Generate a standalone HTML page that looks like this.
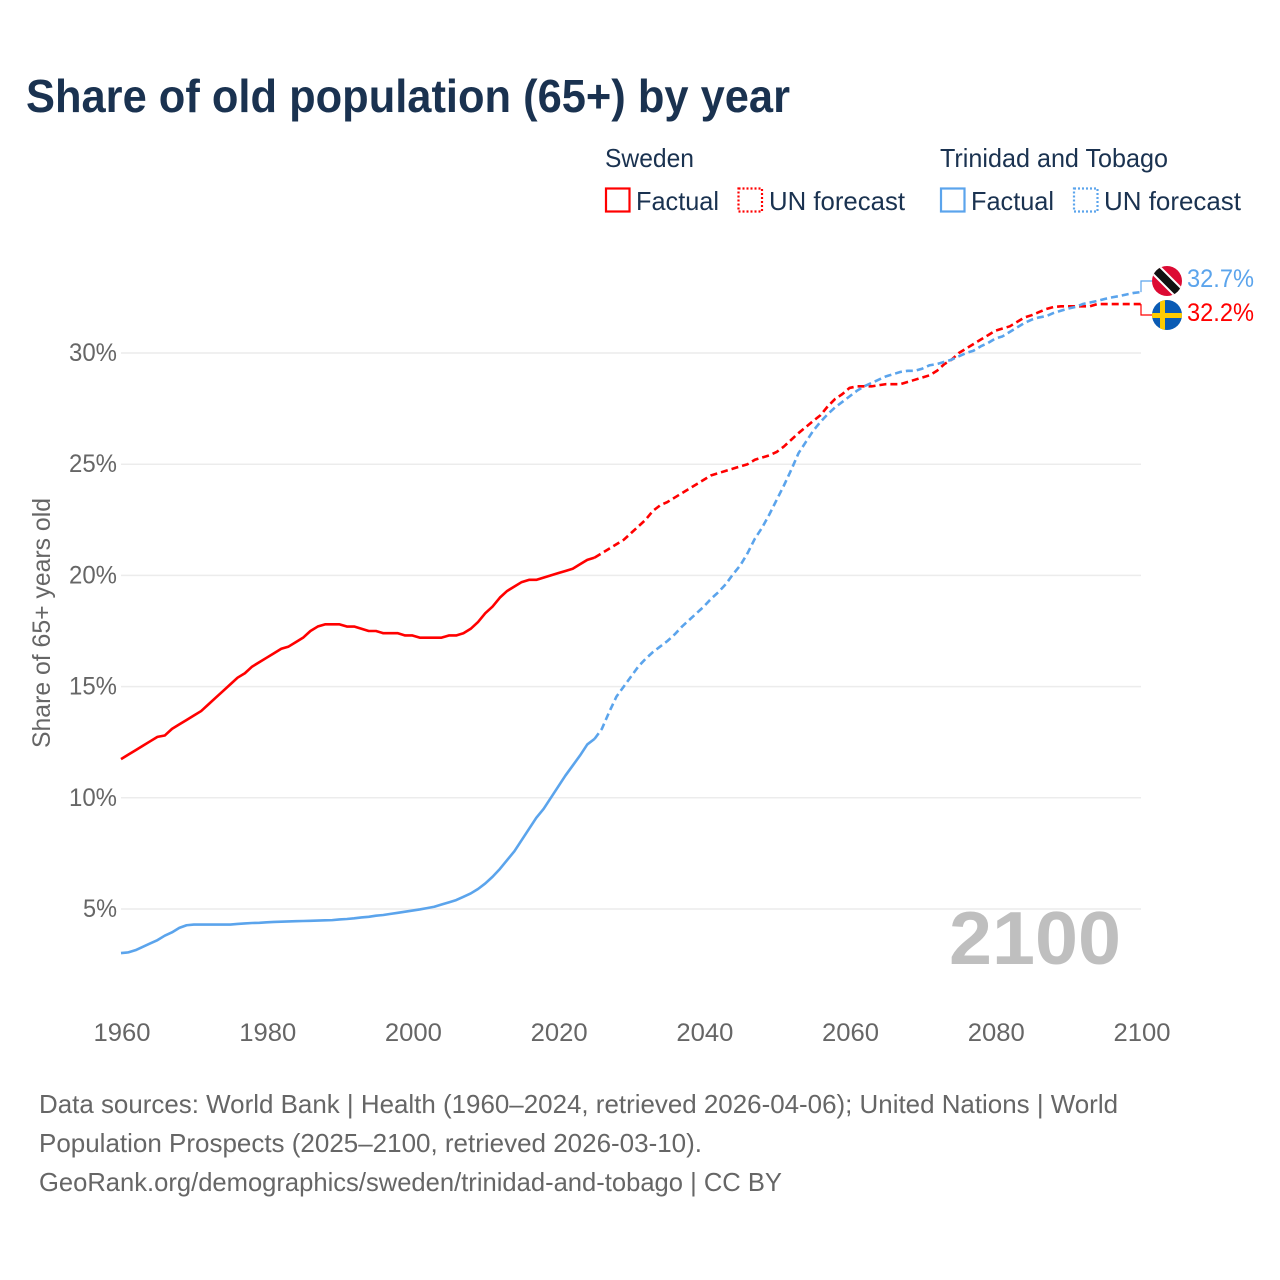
<!DOCTYPE html>
<html lang="en">
<head>
<meta charset="utf-8">
<title>Share of old population (65+) by year</title>
<style>
html,body{margin:0;padding:0;background:#fff;}
svg{display:block;font-family:"Liberation Sans",sans-serif;}
</style>
</head>
<body>
<svg id="chart" xmlns="http://www.w3.org/2000/svg" width="1280" height="1280" viewBox="0 0 1280 1280">
  <defs>
    <clipPath id="clip-tt"><circle cx="1167" cy="281" r="15"/></clipPath>
    <clipPath id="clip-se"><circle cx="1167" cy="315" r="15"/></clipPath>
  </defs>
  <rect x="0" y="0" width="1280" height="1280" fill="#fff"/>
  <text x="26" y="112" font-size="46" font-weight="700" fill="#1a3250" textLength="764" lengthAdjust="spacingAndGlyphs">Share of old population (65+) by year</text>

  <g font-size="26" fill="#1a3250">
    <text x="605" y="167" textLength="89" lengthAdjust="spacingAndGlyphs">Sweden</text>
    <rect x="606" y="188.500" width="23.500" height="23" fill="none" stroke="#ff0000" stroke-width="2.200"/>
    <text x="636" y="210" textLength="83" lengthAdjust="spacingAndGlyphs">Factual</text>
    <rect x="738.500" y="188.500" width="23.500" height="23" fill="none" stroke="#ff0000" stroke-width="2.200" stroke-dasharray="2 2"/>
    <text x="769" y="210" textLength="136" lengthAdjust="spacingAndGlyphs">UN forecast</text>
    <text x="940" y="167" textLength="228" lengthAdjust="spacingAndGlyphs">Trinidad and Tobago</text>
    <rect x="941" y="188.500" width="23.500" height="23" fill="none" stroke="#5ba4ec" stroke-width="2.200"/>
    <text x="971" y="210" textLength="83" lengthAdjust="spacingAndGlyphs">Factual</text>
    <rect x="1074" y="188.500" width="23.500" height="23" fill="none" stroke="#5ba4ec" stroke-width="2.200" stroke-dasharray="2 2"/>
    <text x="1104" y="210" textLength="137" lengthAdjust="spacingAndGlyphs">UN forecast</text>
  </g>

  <text transform="translate(50,748) rotate(-90)" font-size="25" fill="#666666" textLength="250" lengthAdjust="spacingAndGlyphs">Share of 65+ years old</text>

  <g id="grid"></g>
  <g id="yticks" font-size="25" fill="#666666" text-anchor="end"></g>
  <g id="xticks" font-size="25" fill="#666666" text-anchor="middle"></g>

  <text x="949" y="964" font-size="75" font-weight="700" fill="#bfbfbf" textLength="172" lengthAdjust="spacingAndGlyphs">2100</text>

  <g id="series"></g>

  <g clip-path="url(#clip-tt)">
    <rect x="1150" y="264" width="34" height="34" fill="#dc0a33"/>
    <line x1="1150" y1="264" x2="1184" y2="298" stroke="#ffffff" stroke-width="12"/>
    <line x1="1150" y1="264" x2="1184" y2="298" stroke="#111111" stroke-width="8"/>
  </g>
  <g clip-path="url(#clip-se)">
    <rect x="1150" y="298" width="34" height="34" fill="#0a5bb4"/>
    <rect x="1160" y="298" width="5" height="34" fill="#fecb00"/>
    <rect x="1150" y="313" width="34" height="5" fill="#fecb00"/>
  </g>
  <g id="endlabels" font-size="25"></g>

  <g font-size="26" fill="#666666">
    <text x="39" y="1113" textLength="1079" lengthAdjust="spacingAndGlyphs">Data sources: World Bank | Health (1960–2024, retrieved 2026-04-06); United Nations | World</text>
    <text x="39" y="1152" textLength="663" lengthAdjust="spacingAndGlyphs">Population Prospects (2025–2100, retrieved 2026-03-10).</text>
    <text x="39" y="1191" textLength="743" lengthAdjust="spacingAndGlyphs">GeoRank.org/demographics/sweden/trinidad-and-tobago | CC BY</text>
  </g>
</svg>
<script>
const startYear = 1960;
const forecastStartYear = 2025;
const xTickYears = [1960, 1980, 2000, 2020, 2040, 2060, 2080, 2100];
const yTickValues = [5, 10, 15, 20, 25, 30];
const yTickLabels = ["5%", "10%", "15%", "20%", "25%", "30%"];

const swedenFactual = [
11.74,11.94,12.14,12.34,12.54,12.74,12.8,13.1,13.3,13.5,
13.7,13.9,14.2,14.5,14.8,15.1,15.4,15.6,15.9,16.1,
16.3,16.5,16.7,16.8,17.0,17.2,17.5,17.7,17.8,17.8,
17.8,17.7,17.7,17.6,17.5,17.5,17.4,17.4,17.4,17.3,
17.3,17.2,17.2,17.2,17.2,17.3,17.3,17.4,17.6,17.9,
18.3,18.6,19.0,19.3,19.5,19.7,19.8,19.8,19.9,20.0,
20.1,20.2,20.3,20.5,20.7,20.8];
const swedenForecast = [
20.8,21.0,21.2,21.4,21.6,21.9,22.2,22.5,22.9,23.15,
23.3,23.5,23.7,23.9,24.1,24.3,24.5,24.6,24.7,24.8,
24.9,25.0,25.2,25.3,25.4,25.55,25.8,26.1,26.4,26.67,
26.94,27.2,27.6,27.93,28.15,28.43,28.5,28.5,28.5,28.55,
28.6,28.6,28.6,28.7,28.8,28.9,29.0,29.2,29.5,29.7,
30.0,30.2,30.4,30.6,30.8,31.0,31.1,31.2,31.4,31.6,
31.7,31.84,31.98,32.07,32.1,32.1,32.1,32.1,32.1,32.2,
32.2,32.2,32.2,32.2,32.2,32.2];
const trinidadFactual = [
3.02,3.05,3.15,3.3,3.45,3.6,3.8,3.95,4.15,4.27,
4.3,4.3,4.3,4.3,4.3,4.3,4.33,4.35,4.37,4.38,
4.4,4.42,4.43,4.44,4.45,4.46,4.47,4.48,4.49,4.5,
4.53,4.55,4.58,4.62,4.65,4.7,4.73,4.78,4.83,4.88,
4.93,4.98,5.04,5.1,5.2,5.3,5.4,5.55,5.7,5.9,
6.15,6.45,6.8,7.2,7.6,8.1,8.6,9.1,9.5,10.0,
10.5,11.0,11.45,11.9,12.4,12.65];
const trinidadForecast = [
12.65,13.1,13.85,14.55,15.0,15.45,15.9,16.25,16.55,16.8,
17.05,17.35,17.7,18.0,18.3,18.6,18.95,19.25,19.6,20.05,
20.45,21.0,21.65,22.15,22.75,23.4,24.05,24.75,25.5,26.0,
26.5,26.9,27.25,27.55,27.8,28.05,28.3,28.5,28.65,28.8,
28.95,29.05,29.15,29.2,29.2,29.3,29.45,29.5,29.6,29.7,
29.85,30.0,30.1,30.3,30.45,30.65,30.75,30.95,31.15,31.35,
31.5,31.6,31.66,31.8,31.9,32.0,32.07,32.2,32.27,32.34,
32.43,32.5,32.56,32.63,32.7,32.74];
const swedenEndLabel = "32.2%";
const trinidadEndLabel = "32.7%";

const NS = "http://www.w3.org/2000/svg";
const xScale = year => 121 + (year - 1960) * (1020 / 140);
const yScale = value => 909 - (value - 5) * (556 / 25);
const RED = "#ff0000";
const BLUE = "#5ba4ec";

function pathFrom(values, firstYear) {
  return values.map((v, i) => (i ? "L" : "M") + xScale(firstYear + i).toFixed(2) + " " + yScale(v).toFixed(2)).join(" ");
}
function make(tag, parentId) {
  const el = document.createElementNS(NS, tag);
  document.getElementById(parentId).appendChild(el);
  return el;
}

yTickValues.forEach((v, i) => {
  const line = make("line", "grid");
  
  
  line.setAttribute("x1", 121);
  line.setAttribute("x2", 1141);
  line.setAttribute("y1", yScale(v));
  line.setAttribute("y2", yScale(v));
  line.setAttribute("stroke", "#ececec");
  line.setAttribute("stroke-width", "1.5");
  const label = make("text", "yticks");
  
  
  label.setAttribute("x", 117);
  label.setAttribute("y", yScale(v) + 8);
  label.setAttribute("textLength", yTickLabels[i].length > 2 ? 48 : 34);
  label.setAttribute("lengthAdjust", "spacingAndGlyphs");
  label.textContent = yTickLabels[i];
});

xTickYears.forEach(year => {
  const label = make("text", "xticks");
  
  
  label.setAttribute("x", xScale(year) + 1);
  label.setAttribute("y", 1041);
  label.setAttribute("textLength", 57);
  label.setAttribute("lengthAdjust", "spacingAndGlyphs");
  label.textContent = year;
});

function drawLine(values, firstYear, color, dashed, name) {
  const p = make("path", "series");
  
  
  p.setAttribute("d", pathFrom(values, firstYear));
  p.setAttribute("fill", "none");
  p.setAttribute("stroke", color);
  p.setAttribute("stroke-width", "2.6");
  p.setAttribute("stroke-linejoin", "round");
  if (dashed) p.setAttribute("stroke-dasharray", "7 4");
}
drawLine(swedenFactual, startYear, RED, false, "sweden-factual-line");
drawLine(swedenForecast, forecastStartYear, RED, true, "sweden-forecast-line");
drawLine(trinidadFactual, startYear, BLUE, false, "trinidad-factual-line");
drawLine(trinidadForecast, forecastStartYear, BLUE, true, "trinidad-forecast-line");

function drawConnector(lastValue, labelY, color, name) {
  const p = make("path", "series");
  
  
  p.setAttribute("d", "M1141 " + yScale(lastValue).toFixed(1) + " V" + labelY + " H1152");
  p.setAttribute("fill", "none");
  p.setAttribute("stroke", color);
  p.setAttribute("stroke-width", "1.2");
}
drawConnector(trinidadForecast[trinidadForecast.length - 1], 281, BLUE, "trinidad-label-connector");
drawConnector(swedenForecast[swedenForecast.length - 1], 315, RED, "sweden-label-connector");

const blueLabel = make("text", "endlabels");


blueLabel.setAttribute("x", 1187);
blueLabel.setAttribute("y", 287);
blueLabel.setAttribute("fill", BLUE);
blueLabel.setAttribute("textLength", 67);
blueLabel.setAttribute("lengthAdjust", "spacingAndGlyphs");
blueLabel.textContent = trinidadEndLabel;

const redLabel = make("text", "endlabels");


redLabel.setAttribute("x", 1187);
redLabel.setAttribute("y", 321);
redLabel.setAttribute("fill", RED);
redLabel.setAttribute("textLength", 67);
redLabel.setAttribute("lengthAdjust", "spacingAndGlyphs");
redLabel.textContent = swedenEndLabel;
</script>
</body>
</html>
